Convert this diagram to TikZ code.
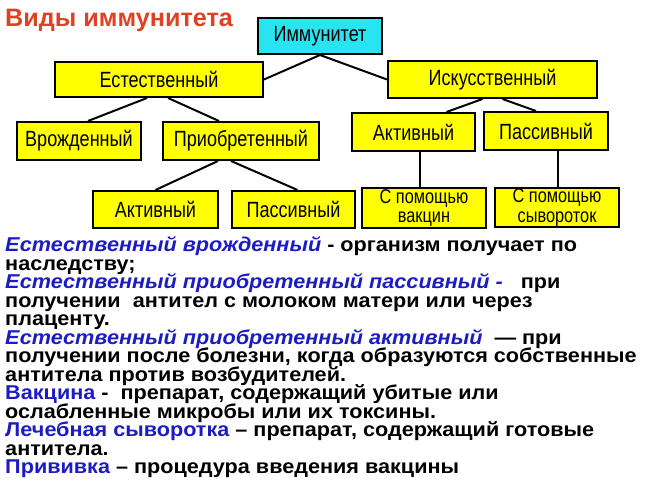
\documentclass[tikz,border=0pt]{standalone}
\usepackage{fontspec}
\setmainfont{Liberation Sans}
\newfontfamily\boxfont[FakeStretch=0.82]{Liberation Sans}
\newfontfamily\notefont[FakeStretch=1.08]{Liberation Sans}
\usetikzlibrary{calc}
\definecolor{boxyellow}{RGB}{255,255,0}
\definecolor{boxcyan}{RGB}{40,228,240}
\definecolor{titlered}{RGB}{222,66,34}
\definecolor{noteblue}{RGB}{28,28,196}
\newcommand{\tightlines}{\lineskiplimit=-20pt\lineskip=0pt}
\newcommand{\notehl}[1]{{\color{noteblue}#1}}
\tikzset{
  kind/.style={draw=black, line width=1.7pt, fill=boxyellow, inner sep=0pt,
    align=center, font=\boxfont\fontsize{18.8}{13.7}\selectfont\tightlines},
  twolines/.style={font=\boxfont\fontsize{17}{16.5}\selectfont\tightlines},
  boxsize/.style 2 args={minimum width=#1*0.8536pt, minimum height=#2*0.8536pt},
  link/.style={line width=1.7pt},
}

\begin{document}
\begin{tikzpicture}[x=0.03cm,y=-0.03cm]
  \useasboundingbox (0,0) rectangle (650,487);
  % title
  \node[anchor=base west, inner sep=0pt, text=titlered,
    font=\bfseries\fontsize{21.5}{24}\selectfont] (title) at (5,27) {Виды иммунитета};
  % tree of kinds
  \node[kind, fill=boxcyan, boxsize={124}{36}] (immunity) at (320,36) {Иммунитет};
  \node[kind, boxsize={208}{35}] (natural) at (159,79.5) {Естественный};
  \node[kind, boxsize={209}{37}] (artificial) at (492.5,79.5) {Искусственный};
  \node[kind, boxsize={124}{38}] (innate) at (79,141) {Врожденный};
  \node[kind, boxsize={156}{38}] (acquired) at (241,141) {Приобретенный};
  \node[kind, boxsize={125}{37}] (acqactive) at (155.5,209.5) {Активный};
  \node[kind, boxsize={123}{37}] (acqpassive) at (293.5,209.5) {Пассивный};
  \node[kind, boxsize={123}{38}] (active) at (413.5,132) {Активный};
  \node[kind, boxsize={124}{38}] (passive) at (546,131) {Пассивный};
  \node[kind, twolines, boxsize={124}{40}] (vaccines) at (424,208) {С помощью\\вакцин};
  \node[kind, twolines, boxsize={124}{39}] (serums) at (557,207.5) {С помощью\\сывороток};

  \draw[link] (immunity.south) -- (natural.east);
  \draw[link] (immunity.south) -- (artificial.west);
  \draw[link] ($(natural.south)+(-12,0)$) -- ($(innate.north)+(9,0)$);
  \draw[link] ($(natural.south)+(9,0)$) -- ($(acquired.north)+(-22,0)$);
  \draw[link] ($(artificial.south)+(-10,0)$) -- ($(active.north)+(33,0)$);
  \draw[link] ($(artificial.south)+(10,0)$) -- ($(passive.north)+(-10,0)$);
  \draw[link] ($(acquired.south)+(-23,0)$) -- (acqactive.north);
  \draw[link] ($(acquired.south)+(-10,0)$) -- ($(acqpassive.north)+(4,0)$);
  \draw[link] ($(active.south)+(6.5,0)$) -- ($(vaccines.north)+(-4,0)$);
  \draw[link] ($(passive.south)+(12,0)$) -- ($(serums.north)+(1,0)$);

  % notes below the tree
  \node[anchor=north west, inner sep=0pt, align=left,
    font=\notefont\bfseries\fontsize{17.1}{15.8}\selectfont\tightlines] (notes) at (5,236.5) {%
    \notehl{\itshape Естественный врожденный} - организм получает по\\
    наследству;\\
    \notehl{\itshape Естественный приобретенный пассивный -}\ \ \ при\\
    получении\ \ антител с молоком матери или через\\
    плаценту.\\
    \notehl{\itshape Естественный приобретенный активный}\ \ — при\\
    получении после болезни, когда образуются собственные\\
    антитела против возбудителей.\\
    \notehl{Вакцина} -\ \ препарат, содержащий убитые или\\
    ослабленные микробы или их токсины.\\
    \notehl{Лечебная сыворотка} – препарат, содержащий готовые\\
    антитела.\\
    \notehl{Прививка} – процедура введения вакцины};
\end{tikzpicture}
\end{document}
